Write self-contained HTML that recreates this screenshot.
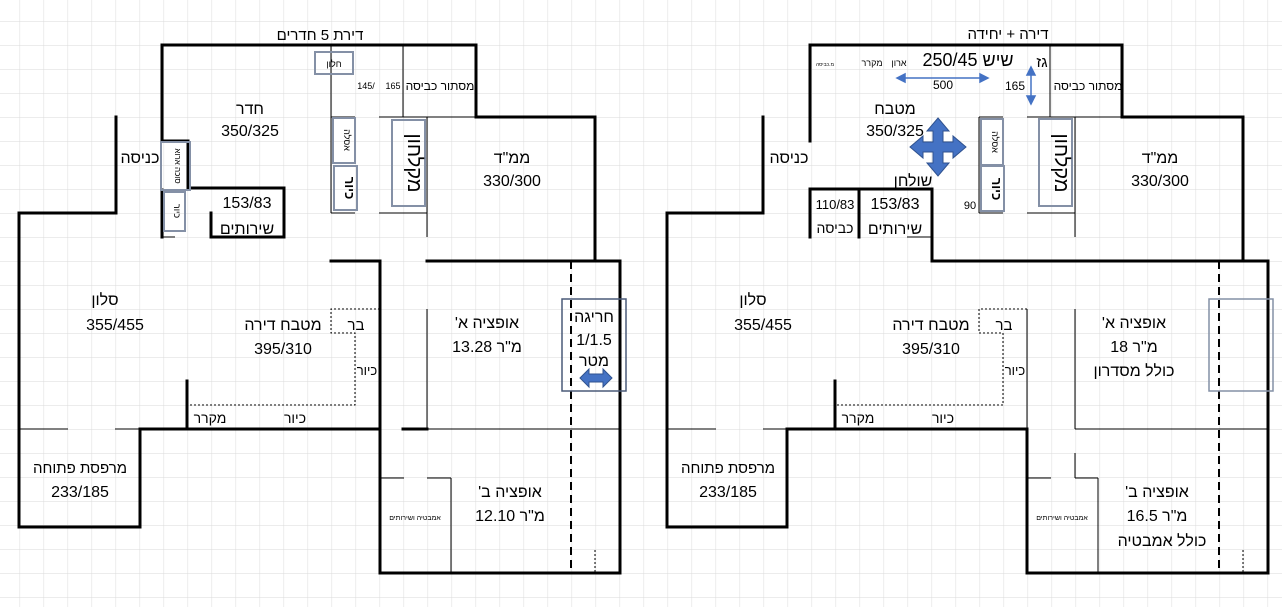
<!DOCTYPE html>
<html><head><meta charset="utf-8"><style>
html,body{margin:0;padding:0;background:#fff;}
svg{display:block;}
text{font-family:"Liberation Sans","Noto Sans CJK JP",sans-serif;fill:#000;text-anchor:middle;direction:rtl;unicode-bidi:embed;}
</style></head><body>
<svg width="1282" height="607" viewBox="0 0 1282 607" xmlns="http://www.w3.org/2000/svg">
<defs>
<pattern id="g" x="-4.4" y="21" width="24" height="24" patternUnits="userSpaceOnUse">
<path d="M0 0H24M0 0V24" stroke="#dadada" stroke-width="1" fill="none"/>
</pattern>
</defs>
<rect width="1282" height="607" fill="url(#g)"/>

<!-- ============ LEFT PLAN ============ -->
<g stroke="#000" fill="none" stroke-width="3" stroke-linecap="square">
<polyline points="162,141 162,45 476,45 476,117 595,117 595,261"/>
<polyline points="162,141 188,141 188,188 284,188 284,237 211,237 211,213"/>
<polyline points="162,190 162,237"/>
<polyline points="116,117 116,213 19,213 19,527 140,527 140,429 380,429 380,261 331,261"/>
<polyline points="427,261 620,261 620,573 380,573 380,429"/>
<line x1="187" y1="381" x2="187" y2="429"/>
<line x1="403" y1="429" x2="427" y2="429"/>
</g>
<g stroke="#000" fill="none" stroke-width="1">
<line x1="331" y1="45" x2="331" y2="213"/>
<line x1="403" y1="45" x2="403" y2="117"/>
<line x1="331" y1="117" x2="355" y2="117"/>
<line x1="379" y1="117" x2="476" y2="117"/>
<line x1="427" y1="117" x2="427" y2="237"/>
<line x1="331" y1="213" x2="355" y2="213"/>
<line x1="379" y1="213" x2="427" y2="213"/>
<line x1="162" y1="237" x2="175" y2="237"/>
<line x1="380" y1="309" x2="380" y2="429"/>
<line x1="427" y1="309" x2="427" y2="429"/>
<line x1="427" y1="429" x2="620" y2="429"/>
<line x1="19" y1="429" x2="68" y2="429"/>
<line x1="115" y1="429" x2="140" y2="429"/>
<line x1="380" y1="478" x2="404" y2="478"/>
<line x1="427" y1="478" x2="451" y2="478"/>
<line x1="451" y1="478" x2="451" y2="573"/>
</g>
<g stroke="#000" fill="none" stroke-width="1" stroke-dasharray="2,2">
<polyline points="380,309 331,309 331,333 355,333 355,405 187,405"/>
<line x1="595" y1="550" x2="595" y2="573"/>
</g>
<line x1="571" y1="261" x2="571" y2="573" stroke="#000" stroke-width="2" stroke-dasharray="8,5"/>
<g stroke="#8490a6" fill="none" stroke-width="2">
<rect x="315" y="52" width="38" height="22"/>
<rect x="161" y="142" width="29" height="48"/>
<rect x="164" y="192" width="21" height="39"/>
<rect x="333" y="118" width="22" height="45"/>
<rect x="334" y="166" width="23" height="44"/>
<rect x="392" y="120" width="33" height="86"/>
</g>
<rect x="562" y="299" width="64" height="92" fill="none" stroke="#4a5a78" stroke-width="1.5"/>
<path d="M580 378 L589 369 L589 374 L603 374 L603 369 L612 378 L603 387 L603 382 L589 382 L589 387 Z" fill="#4472c4" stroke="#2f528f" stroke-width="1"/>

<text x="320" y="40" font-size="15">דירת 5 חדרים</text>
<text x="334" y="67" font-size="9">חלון</text>
<text x="366" y="89" font-size="9" fill="#333">/145</text>
<text x="393" y="89" font-size="9">165</text>
<text x="440" y="90" font-size="12">מסתור כביסה</text>
<text x="250" y="114" font-size="16">חדר</text>
<text x="250" y="136" font-size="16">350/325</text>
<text x="140" y="163" font-size="16">כניסה</text>
<text x="512" y="163" font-size="16">ממ"ד</text>
<text x="512" y="186" font-size="16">330/300</text>
<text x="247" y="208" font-size="16">153/83</text>
<text x="247" y="234" font-size="16">שירותים</text>
<text transform="translate(175,166) rotate(90)" font-size="8">סוכה ארוא</text>
<text transform="translate(174,211) rotate(90)" font-size="9">כיור</text>
<text transform="translate(344,140) rotate(90)" font-size="9">אסלה</text>
<text transform="translate(345,188) rotate(90)" font-size="13" font-weight="bold">כיור</text>
<text transform="translate(408,163) rotate(90)" font-size="20">מקלחון</text>
<text x="105" y="305" font-size="16">סלון</text>
<text x="115" y="330" font-size="16">355/455</text>
<text x="283" y="330" font-size="16">מטבח דירה</text>
<text x="283" y="354" font-size="16">395/310</text>
<text x="356" y="330" font-size="15">בר</text>
<text x="367" y="375" font-size="13">כיור</text>
<text x="210" y="423" font-size="14">מקרר</text>
<text x="295" y="423" font-size="14">כיור</text>
<text x="487" y="328" font-size="16">אופציה א'</text>
<text x="487" y="352" font-size="16">מ"ר 13.28</text>
<text x="594" y="322" font-size="16">חריגה</text>
<text x="594" y="345" font-size="16">1/1.5</text>
<text x="594" y="366" font-size="16">מטר</text>
<text x="80" y="473" font-size="15">מרפסת פתוחה</text>
<text x="80" y="497" font-size="16">233/185</text>
<text x="510" y="497" font-size="16">אופציה ב'</text>
<text x="510" y="521" font-size="16">מ"ר 12.10</text>
<text x="415" y="520" font-size="7">אמבטיה ושירותים</text>

<!-- ============ RIGHT PLAN ============ -->
<g stroke="#000" fill="none" stroke-width="3" stroke-linecap="square">
<polyline points="810,141 810,45 1122,45 1122,117 1243,117 1243,261"/>
<polyline points="810,237 810,189 932,189 932,261 1268,261 1268,573 1027,573 1027,429 787,429 787,527 667,527 667,213 763,213 763,117"/>
<line x1="859" y1="189" x2="859" y2="237"/>
<line x1="835" y1="381" x2="835" y2="429"/>
</g>
<g stroke="#000" fill="none" stroke-width="1">
<line x1="979" y1="117" x2="979" y2="213"/>
<line x1="1050" y1="45" x2="1050" y2="117"/>
<line x1="979" y1="117" x2="1003" y2="117"/>
<line x1="1027" y1="117" x2="1122" y2="117"/>
<line x1="1075" y1="117" x2="1075" y2="237"/>
<line x1="979" y1="213" x2="1003" y2="213"/>
<line x1="1027" y1="213" x2="1075" y2="213"/>
<line x1="907" y1="237" x2="932" y2="237"/>
<line x1="1027" y1="309" x2="1027" y2="429"/>
<line x1="1075" y1="309" x2="1075" y2="429"/>
<line x1="1075" y1="429" x2="1268" y2="429"/>
<line x1="667" y1="429" x2="716" y2="429"/>
<line x1="763" y1="429" x2="787" y2="429"/>
<line x1="1027" y1="478" x2="1051" y2="478"/>
<line x1="1075" y1="478" x2="1098" y2="478"/>
<line x1="1075" y1="453" x2="1075" y2="478"/>
<line x1="1098" y1="478" x2="1098" y2="573"/>
</g>
<g stroke="#000" fill="none" stroke-width="1" stroke-dasharray="2,2">
<polyline points="1027,309 979,309 979,333 1003,333 1003,405 835,405"/>
<line x1="1243" y1="550" x2="1243" y2="573"/>
</g>
<line x1="1219" y1="261" x2="1219" y2="573" stroke="#000" stroke-width="2" stroke-dasharray="8,5"/>
<g stroke="#8490a6" fill="none" stroke-width="2">
<rect x="981" y="119" width="22" height="46"/>
<rect x="981" y="166" width="23" height="45"/>
<rect x="1039" y="119" width="33" height="87"/>
</g>
<rect x="1209" y="299" width="64" height="92" fill="none" stroke="#8490a6" stroke-width="1.5"/>
<g stroke="#4472c4" stroke-width="1.5" fill="#4472c4">
<line x1="901" y1="78" x2="984" y2="78"/>
<path d="M897 78 L905 74 L905 82 Z"/><path d="M988 78 L980 74 L980 82 Z"/>
<line x1="1031" y1="71" x2="1031" y2="100"/>
<path d="M1031 67 L1027 75 L1035 75 Z"/><path d="M1031 104 L1027 96 L1035 96 Z"/>
</g>
<path d="M938 118 L949 131 L943 131 L943 142 L953 142 L953 136 L966 147 L953 158 L953 152 L943 152 L943 163 L949 163 L938 176 L927 163 L933 163 L933 152 L923 152 L923 158 L910 147 L923 136 L923 142 L933 142 L933 131 L927 131 Z" fill="#4472c4" stroke="#2f528f" stroke-width="1"/>

<text x="1008" y="39" font-size="15">דירה + יחידה</text>
<text x="968" y="66" font-size="18">שיש 250/45</text>
<text x="1042" y="67" font-size="15">גז</text>
<text x="899" y="66" font-size="9" fill="#c55a11">ארון</text>
<text x="872" y="66" font-size="9" fill="#4a6fa5">מקרר</text>
<text x="825" y="66" font-size="5" fill="#4a6fa5">מ.כביסה</text>
<text x="943" y="89" font-size="12">500</text>
<text x="1015" y="90" font-size="12">165</text>
<text x="1088" y="90" font-size="12">מסתור כביסה</text>
<text x="895" y="114" font-size="16">מטבח</text>
<text x="895" y="136" font-size="16">350/325</text>
<text x="789" y="163" font-size="16">כניסה</text>
<text x="1160" y="163" font-size="16">ממ"ד</text>
<text x="1160" y="186" font-size="16">330/300</text>
<text x="913" y="186" font-size="16" fill="#1f3b6e">שולחן</text>
<text x="835" y="209" font-size="13">110/83</text>
<text x="835" y="233" font-size="14">כביסה</text>
<text x="895" y="209" font-size="16">153/83</text>
<text x="895" y="234" font-size="16">שירותים</text>
<text x="970" y="209" font-size="11">90</text>
<text transform="translate(992,142) rotate(90)" font-size="9">אסלה</text>
<text transform="translate(992,189) rotate(90)" font-size="13" font-weight="bold">כיור</text>
<text transform="translate(1055,163) rotate(90)" font-size="20">מקלחון</text>
<text x="753" y="305" font-size="16">סלון</text>
<text x="763" y="330" font-size="16">355/455</text>
<text x="931" y="330" font-size="16">מטבח דירה</text>
<text x="931" y="354" font-size="16">395/310</text>
<text x="1004" y="330" font-size="15">בר</text>
<text x="1015" y="375" font-size="13">כיור</text>
<text x="858" y="423" font-size="14">מקרר</text>
<text x="943" y="423" font-size="14">כיור</text>
<text x="1134" y="328" font-size="16">אופציה א'</text>
<text x="1134" y="352" font-size="16">מ"ר 18</text>
<text x="1134" y="376" font-size="16">כולל מסדרון</text>
<text x="728" y="473" font-size="15">מרפסת פתוחה</text>
<text x="728" y="497" font-size="16">233/185</text>
<text x="1157" y="497" font-size="16">אופציה ב'</text>
<text x="1157" y="521" font-size="16">מ"ר 16.5</text>
<text x="1162" y="546" font-size="16">כולל אמבטיה</text>
<text x="1062" y="520" font-size="7" fill="#7f3f00">אמבטיה ושירותים</text>
</svg>
</body></html>
